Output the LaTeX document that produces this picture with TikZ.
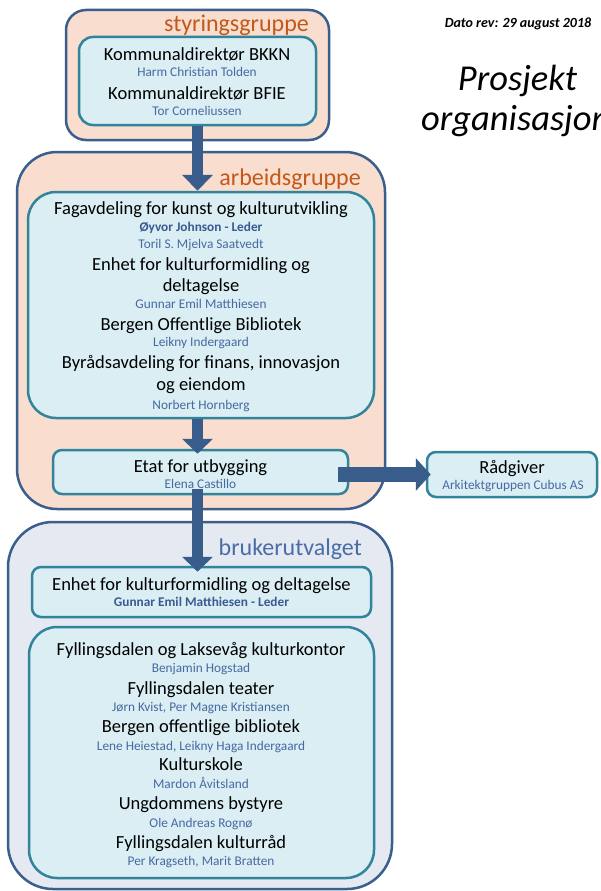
\documentclass[tikz,border=0pt]{standalone}
\usepackage{fontspec}
\setmainfont{Carlito}
\usetikzlibrary{arrows.meta,calc}
\definecolor{peach}{HTML}{F9DDCE}
\definecolor{grayblue}{HTML}{E4E9F2}
\definecolor{outerline}{HTML}{3A5F8C}
\definecolor{innerfill}{HTML}{DAEEF3}
\definecolor{innerline}{HTML}{31849B}
\definecolor{namec}{HTML}{4669A2}
\definecolor{nameb}{HTML}{3A5A92}
\definecolor{orangec}{HTML}{C0591A}
\definecolor{bluec}{HTML}{4A6DA7}
\definecolor{arrowc}{HTML}{385D8A}
\begin{document}
\begin{tikzpicture}[x=1pt,y=-1pt,
 outerbox/.style={draw=outerline, line width=2.5pt, rectangle, inner sep=0pt},
 innerbox/.style={draw=innerline, line width=2.5pt, fill=innerfill, rectangle, inner sep=0pt},
 ttl/.style={anchor=base, inner sep=0pt, font=\fontsize{18.5}{22}\selectfont, text=black},
 nm/.style={anchor=base, inner sep=0pt, font=\fontsize{13.3}{16}\selectfont, text=namec},
 nmb/.style={anchor=base, inner sep=0pt, font=\fontsize{13.3}{16}\selectfont\bfseries, text=nameb},
 grp/.style={anchor=base east, inner sep=0pt, font=\fontsize{24}{28}\selectfont},
 bigarrow/.style={draw=arrowc, line width=11pt, -{Triangle[length=16pt,width=30pt]}}
]
\useasboundingbox (0,0) rectangle (600,891);
\fill[white] (0,0) rectangle (600,891);

% group frames
\node[outerbox, fill=peach, rounded corners=20pt, minimum width=263pt, minimum height=130pt] (sg) at (197.5,75) {};
\node[outerbox, fill=peach, rounded corners=40pt, minimum width=368pt, minimum height=357pt] (ag) at (201,330.5) {};
\node[outerbox, fill=grayblue, rounded corners=45pt, minimum width=384pt, minimum height=367pt] (bu) at (200,705.5) {};

% inner boxes
\node[innerbox, rounded corners=14pt, minimum width=237pt, minimum height=88pt] (sgin) at (197.5,81) {};
\node[innerbox, rounded corners=28pt, minimum width=346pt, minimum height=226pt] (agin) at (201,305) {};
\node[innerbox, rounded corners=9pt, minimum width=295pt, minimum height=44pt] (etat) at (200.5,472) {};
\node[innerbox, rounded corners=9pt, minimum width=170pt, minimum height=45pt] (radg) at (512,474.5) {};
\node[innerbox, rounded corners=9pt, minimum width=339pt, minimum height=50pt] (bu1) at (201.5,592) {};
\node[innerbox, rounded corners=28pt, minimum width=345pt, minimum height=251pt] (bu2) at (201.5,752.5) {};

% arrows
\draw[bigarrow] (sgin.south) -- (sgin.south |- agin.north);
\draw[bigarrow, -{Triangle[length=15pt,width=30pt]}] (sgin.south |- agin.south) -- ($(sgin.south |- etat.north)+(0,5)$);
\draw[bigarrow, -{Triangle[length=15pt,width=30pt]}] ($(sgin.south |- etat.south)+(0,-6)$) -- ($(sgin.south |- bu1.north)+(0,6)$);
\draw[bigarrow, line width=15pt, -{Triangle[length=15pt,width=32pt]}] ($(etat.east)+(-11,2.5)$) -- ($(radg.west)+(5,0)$);

% group labels
\node[grp, text=orangec] (sgl) at (309,32) {styringsgruppe};
\node[grp, text=orangec] (agl) at (361,185) {arbeidsgruppe};
\node[grp, text=bluec] (bul) at (362,555) {brukerutvalget};

% styringsgruppe
\node[ttl] (s1) at (197,60) {Kommunaldirektør BKKN};
\node[nm]  (s2) at (197,77) {Harm Christian Tolden};
\node[ttl] (s3) at (197,99) {Kommunaldirektør BFIE};
\node[nm]  (s4) at (197,115) {Tor Corneliussen};

% arbeidsgruppe
\node[ttl] (a1) at (201,214) {Fagavdeling for kunst og kulturutvikling};
\node[nmb] (a2) at (201,231.7) {Øyvor Johnson - Leder};
\node[nm]  (a3) at (201,248) {Toril S. Mjelva Saatvedt};
\node[ttl] (a4) at (201,270) {Enhet for kulturformidling og};
\node[ttl] (a5) at (201,291.7) {deltagelse};
\node[nm]  (a6) at (201,308) {Gunnar Emil Matthiesen};
\node[ttl] (a7) at (201,330) {Bergen Offentlige Bibliotek};
\node[nm]  (a8) at (201,346.7) {Leikny Indergaard};
\node[ttl] (a9) at (201,368) {Byrådsavdeling for finans, innovasjon};
\node[ttl] (a10) at (201,390.7) {og eiendom};
\node[nm]  (a11) at (201,409) {Norbert Hornberg};

% etat + raadgiver
\node[ttl] (e1) at (200.5,472) {Etat for utbygging};
\node[nm]  (e2) at (200.5,488) {Elena Castillo};
\node[ttl] (r1) at (512,473) {Rådgiver};
\node[nm]  (r2) at (513,489) {Arkitektgruppen Cubus AS};

% brukerutvalget
\node[ttl] (b1) at (201.5,590) {Enhet for kulturformidling og deltagelse};
\node[nmb] (b2) at (201.5,606) {Gunnar Emil Matthiesen - Leder};
\node[ttl] (c1) at (201,655) {Fyllingsdalen og Laksevåg kulturkontor};
\node[nm]  (c2) at (201,672.7) {Benjamin Hogstad};
\node[ttl] (c3) at (201,694) {Fyllingsdalen teater};
\node[nm]  (c4) at (201,711.7) {Jørn Kvist, Per Magne Kristiansen};
\node[ttl] (c5) at (201,732.3) {Bergen offentlige bibliotek};
\node[nm]  (c6) at (201,750) {Lene Heiestad, Leikny Haga Indergaard};
\node[ttl] (c7) at (201,770.7) {Kulturskole};
\node[nm]  (c8) at (201,788.3) {Mardon Åvitsland};
\node[ttl] (c9) at (201,809.3) {Ungdommens bystyre};
\node[nm]  (c10) at (201,827.3) {Ole Andreas Rognø};
\node[ttl] (c11) at (201,848.3) {Fyllingsdalen kulturråd};
\node[nm]  (c12) at (201,865.7) {Per Kragseth, Marit Bratten};

% title block
\node[anchor=base, inner sep=0pt, font=\fontsize{14}{16}\selectfont\bfseries\itshape] (dato) at (518,28) {Dato rev: 29 august 2018};
\node[anchor=base, inner sep=0pt, font=\fontsize{36.5}{40}\selectfont\itshape] (t1) at (517.5,90) {Prosjekt};
\node[anchor=base west, inner sep=0pt, font=\fontsize{36.5}{40}\selectfont\itshape] (t2) at (421,130) {organisasjon};
\end{tikzpicture}
\end{document}
